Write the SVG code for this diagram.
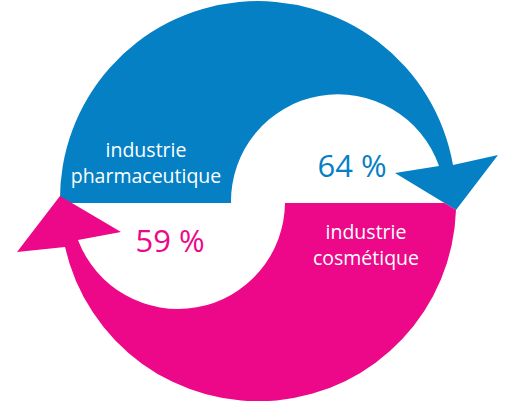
<svg xmlns="http://www.w3.org/2000/svg" width="507" height="401" viewBox="0 0 507 401">
<style>
.lbl{font-family:"Open Sans","Noto Sans","Liberation Sans",sans-serif;font-size:19.5px;fill:#ffffff;text-anchor:middle}
.pct{font-family:"Open Sans","Noto Sans","Liberation Sans",sans-serif;font-size:31px;text-anchor:middle}
</style>
<rect width="507" height="401" fill="#ffffff"/>
<g id="pharma">
<path fill="#0580c5" d="M60,203 L231,203 A107,107 0 0 1 439,166 L395,173 L456,210 L498,155 L453,165 A198,198 0 0 0 60,203 Z"/>
<text class="lbl" x="146" y="157">industrie</text>
<text class="lbl" x="146" y="183">pharmaceutique</text>
<text class="pct" x="352" y="177" fill="#0580c5">64 %</text>
</g>
<g id="cosmetique">
<path fill="#ec0888" d="M285,203 L444.5,203 L456,210 A198,198 0 0 1 65,247 L17,252 L60,196 L121,232 L78,240 A107,107 0 0 0 285,203 Z"/>
<text class="lbl" x="366" y="239">industrie</text>
<text class="lbl" x="366" y="265">cosmétique</text>
<text class="pct" x="170" y="252" fill="#ec0888">59 %</text>
</g>
<g id="connectors"></g>
</svg>
